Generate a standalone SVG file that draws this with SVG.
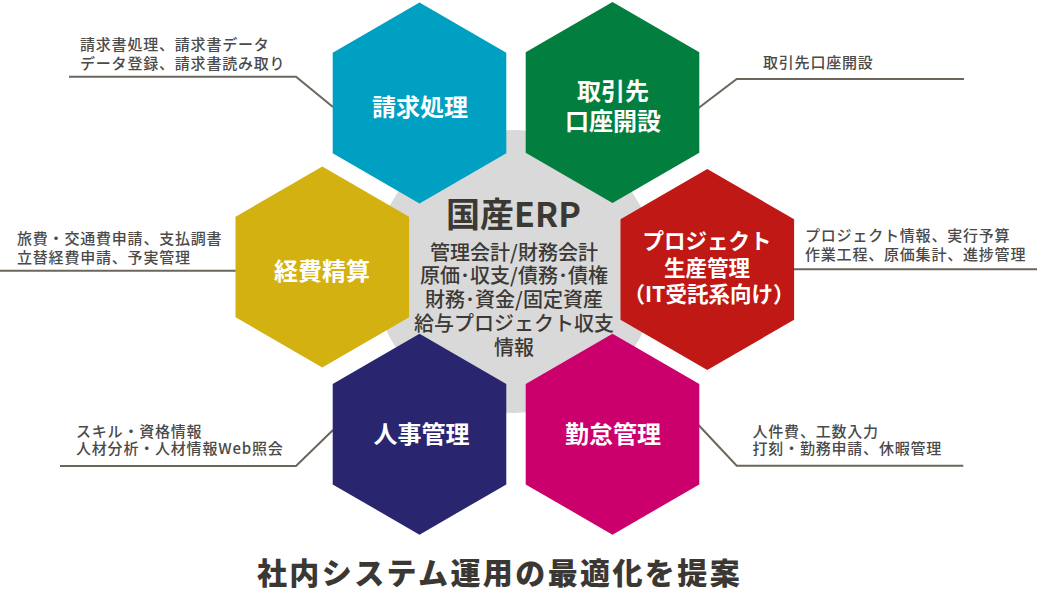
<svg xmlns="http://www.w3.org/2000/svg" xmlns:xlink="http://www.w3.org/1999/xlink" width="1040" height="608" viewBox="0 0 1040 608">
<style>
.hexlabel{font-family:"Noto Sans CJK JP","Noto Sans",sans-serif;font-weight:700;fill:#ffffff;text-anchor:middle}
.big{font-size:24px}
.mid{font-size:21.5px}
.note{font-family:"Noto Sans CJK JP","Noto Sans",sans-serif;font-weight:500;font-size:15px;letter-spacing:0.8px;fill:#4a4a4a}
.center{font-family:"Noto Sans CJK JP","Noto Sans",sans-serif;fill:#3c3935;text-anchor:middle}
.body{font-size:20px;font-weight:500}
.lead{fill:none;stroke:#6b655c;stroke-width:2}
</style>
<defs>
<polygon id="hex" points="0,-100.5 86.8,-50.2 86.8,50.2 0,100.5 -86.8,50.2 -86.8,-50.2"/>
</defs>
<rect x="0" y="0" width="1040" height="608" fill="#ffffff"/>

<g id="connectors">
<polyline class="lead" points="69,76.7 296,76.7 333,107"/>
<polyline class="lead" points="0,270.7 236,270.7"/>
<polyline class="lead" points="60,466 296,466 333,430"/>
<polyline class="lead" points="964,79 736.7,79 698.5,108"/>
<polyline class="lead" points="1037,269.3 794,269.3"/>
<polyline class="lead" points="963.3,465.7 736.7,465.7 698.5,425"/>
</g>

<g id="erp-core">
<circle cx="515" cy="271.5" r="141.5" fill="#d9d9d9"/>
</g>

<g id="node-seikyu">
<use xlink:href="#hex" href="#hex" x="419.5" y="103" fill="#00a0c3"/>
<text class="hexlabel big" x="420" y="116">請求処理</text>
</g>

<g id="node-torihiki">
<use xlink:href="#hex" href="#hex" x="612.5" y="102.5" fill="#027f3e"/>
<text class="hexlabel big" x="613" y="100">取引先</text>
<text class="hexlabel big" x="613" y="130">口座開設</text>
</g>

<g id="node-keihi">
<use xlink:href="#hex" href="#hex" x="322.3" y="267" fill="#d3b110"/>
<text class="hexlabel big" x="322" y="280">経費精算</text>
</g>

<g id="node-project">
<use xlink:href="#hex" href="#hex" x="707.3" y="269.5" fill="#c01814"/>
<text class="hexlabel mid" x="707" y="249">プロジェクト</text>
<text class="hexlabel mid" x="707" y="276">生産管理</text>
<text class="hexlabel mid" x="709" y="302">（IT受託系向け）</text>
</g>

<g id="node-jinji">
<use xlink:href="#hex" href="#hex" x="419.5" y="434.2" fill="#29266f"/>
<text class="hexlabel big" x="421.5" y="443">人事管理</text>
</g>

<g id="node-kintai">
<use xlink:href="#hex" href="#hex" x="612.5" y="434.2" fill="#cc006d"/>
<text class="hexlabel big" x="613" y="443">勤怠管理</text>
</g>

<g id="node-erp-text">
<text class="center" x="513.5" y="227" font-size="34" font-weight="700">国産ERP</text>
<text class="center body" x="514" y="259.5">管理会計/財務会計</text>
<text class="center body" x="514" y="283.3">原価･収支/債務･債権</text>
<text class="center body" x="514" y="307.1">財務･資金/固定資産</text>
<text class="center body" x="514" y="330.9">給与プロジェクト収支</text>
<text class="center body" x="514" y="354.7">情報</text>
</g>

<g id="notes">
<text class="note" x="80" y="50">請求書処理、請求書データ</text>
<text class="note" x="80" y="68.5">データ登録、請求書読み取り</text>
<text class="note" x="17" y="244">旅費・交通費申請、支払調書</text>
<text class="note" x="17" y="262.5">立替経費申請、予実管理</text>
<text class="note" x="76" y="436.5">スキル・資格情報</text>
<text class="note" x="76" y="454">人材分析・人材情報Web照会</text>
<text class="note" x="763" y="67.5">取引先口座開設</text>
<text class="note" x="805" y="241">プロジェクト情報、実行予算</text>
<text class="note" x="805" y="259.5">作業工程、原価集計、進捗管理</text>
<text class="note" x="752.5" y="436.5">人件費、工数入力</text>
<text class="note" x="752.5" y="454">打刻・勤務申請、休暇管理</text>
</g>

<g id="title">
<text x="499.5" y="584" font-family="'Noto Sans CJK JP','Noto Sans',sans-serif" font-weight="900" font-size="30" letter-spacing="2.4" text-anchor="middle" fill="#3b3834">社内システム運用の最適化を提案</text>
</g>
</svg>
